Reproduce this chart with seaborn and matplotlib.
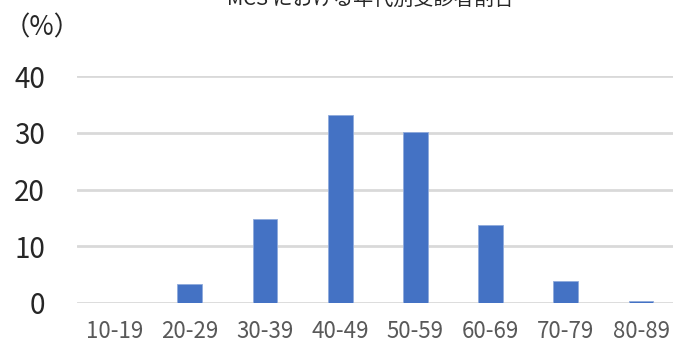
import matplotlib
matplotlib.use("Agg")
import matplotlib.pyplot as plt
import seaborn as sns
import pandas as pd

# age groups and share of examinees (%)
age_groups = ["10-19", "20-29", "30-39", "40-49", "50-59", "60-69", "70-79", "80-89"]
share_pct = [0.0, 3.3, 14.8, 33.2, 30.2, 13.8, 3.8, 0.4]
y_ticks = [0, 10, 20, 30, 40]
title = "MCS における年代別受診者割合"
unit_label = "（%）"

sns.set_theme(style="white")
plt.rcParams["font.family"] = ["Noto Sans CJK JP", "DejaVu Sans"]

df = pd.DataFrame({"age": age_groups, "share": share_pct})

fig = plt.figure(figsize=(6.73, 3.42), dpi=100)
ax = fig.add_axes([77 / 673, 39 / 342, 601.6 / 673, 227 / 342])

sns.barplot(data=df, x="age", y="share", color="#4472C4", saturation=1,
            width=0.33, edgecolor="#8FAADC", linewidth=0.6, ax=ax, zorder=3)

ax.set_ylim(0, 40)
ax.set_yticks(y_ticks)
ax.set_xlim(-0.5, len(age_groups) - 0.5)
ax.yaxis.grid(True, color="#D9D9D9", linewidth=2, zorder=0)
ax.set_axisbelow(True)
for s in ax.spines.values():
    s.set_visible(False)
ax.set_xlabel("")
ax.set_ylabel("")

ax.tick_params(axis="y", length=0, pad=23, labelsize=20, labelcolor="#262626")
ax.tick_params(axis="x", length=0, pad=12, labelsize=16, labelcolor="#595959")

# title is partly clipped by the top edge, as in the source image
fig.text(370 / 673, 1.0 - 11 / 342, title, ha="center", va="bottom",
         fontsize=14.5, color="#262626")
fig.text(4 / 673, 1.0 - 28 / 342, unit_label, ha="left", va="center",
         fontsize=19, color="#262626")

fig.savefig("out.png", dpi=100)
